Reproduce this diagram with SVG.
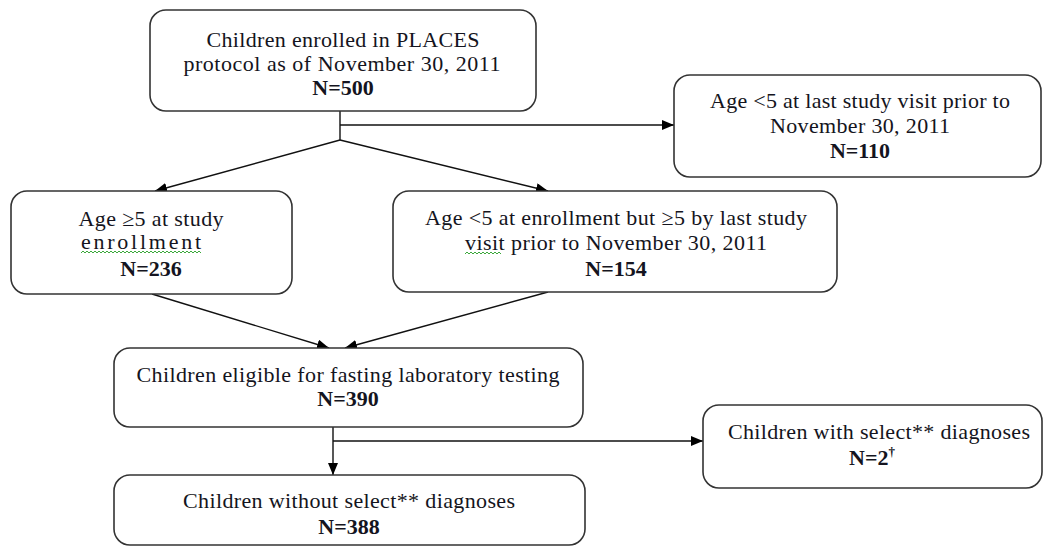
<svg xmlns="http://www.w3.org/2000/svg" width="1044" height="547" viewBox="0 0 1044 547">
<style>
.box{fill:#fff;stroke:#333;stroke-width:1.6}
.t{font-family:"Liberation Serif","Times New Roman",serif;font-size:22px;fill:#141420;text-anchor:middle}
.b{font-weight:bold}
.c{stroke:#111;stroke-width:1.4;fill:none}
.sq{stroke:#3aa83a;stroke-width:1;fill:none}
</style>
<defs>
<marker id="ah" markerWidth="12" markerHeight="10" refX="12" refY="5" orient="auto" markerUnits="userSpaceOnUse">
<path d="M0,0 L12,5 L0,10 Z" fill="#000"/>
</marker>
</defs>
<rect width="1044" height="547" fill="#fff"/>
<g id="connectors">
<line class="c" x1="340" y1="111" x2="340" y2="140"/>
<line class="c" x1="340" y1="125" x2="674" y2="125" marker-end="url(#ah)"/>
<line class="c" x1="340" y1="140" x2="155" y2="191" marker-end="url(#ah)"/>
<line class="c" x1="340" y1="140" x2="548" y2="191" marker-end="url(#ah)"/>
<line class="c" x1="152" y1="294" x2="329" y2="348" marker-end="url(#ah)"/>
<line class="c" x1="548" y1="292" x2="345" y2="348" marker-end="url(#ah)"/>
<line class="c" x1="333" y1="427" x2="333" y2="475" marker-end="url(#ah)"/>
<line class="c" x1="333" y1="441" x2="703" y2="441" marker-end="url(#ah)"/>
</g>
<g id="n1">
<rect class="box" x="150" y="10" width="386" height="101" rx="16"/>
<text class="t" x="343" y="47" textLength="273" lengthAdjust="spacing">Children enrolled in PLACES</text>
<text class="t" x="342" y="71" textLength="317" lengthAdjust="spacing">protocol as of November 30, 2011</text>
<text class="t b" x="343" y="95">N=500</text>
</g>
<g id="n2">
<rect class="box" x="674" y="75" width="367" height="102" rx="16"/>
<text class="t" x="860" y="108" textLength="300" lengthAdjust="spacing">Age &lt;5 at last study visit prior to</text>
<text class="t" x="860" y="133" textLength="180" lengthAdjust="spacing">November 30, 2011</text>
<text class="t b" x="860" y="158">N=110</text>
</g>
<g id="n3">
<rect class="box" x="11" y="191" width="281" height="103" rx="16"/>
<text class="t" x="151" y="226" textLength="145" lengthAdjust="spacing">Age ≥5 at study</text>
<text class="t" x="141" y="249" textLength="120" lengthAdjust="spacing">enrollment</text>
<path class="sq" d="M81,253 l2,-2 l2,2 l2,-2 l2,2 l2,-2 l2,2 l2,-2 l2,2 l2,-2 l2,2 l2,-2 l2,2 l2,-2 l2,2 l2,-2 l2,2 l2,-2 l2,2 l2,-2 l2,2 l2,-2 l2,2 l2,-2 l2,2 l2,-2 l2,2 l2,-2 l2,2 l2,-2 l2,2 l2,-2 l2,2 l2,-2 l2,2 l2,-2 l2,2 l2,-2 l2,2 l2,-2 l2,2 l2,-2 l2,2 l2,-2 l2,2 l2,-2 l2,2 l2,-2 l2,2 l2,-2 l2,2 l2,-2 l2,2 l2,-2 l2,2 l2,-2 l2,2 l2,-2 l2,2 l2,-2 l2,2"/>
<text class="t b" x="151" y="276">N=236</text>
</g>
<g id="n4">
<rect class="box" x="393" y="191" width="444" height="101" rx="16"/>
<text class="t" x="616" y="225" textLength="382" lengthAdjust="spacing">Age &lt;5 at enrollment but ≥5 by last study</text>
<text class="t" x="616" y="250" textLength="302" lengthAdjust="spacing">visit prior to November 30, 2011</text>
<path class="sq" d="M465,254 l2,-2 l2,2 l2,-2 l2,2 l2,-2 l2,2 l2,-2 l2,2 l2,-2 l2,2 l2,-2 l2,2 l2,-2 l2,2 l2,-2 l2,2 l2,-2 l2,2"/>
<text class="t b" x="616" y="276">N=154</text>
</g>
<g id="n5">
<rect class="box" x="114" y="348" width="469" height="79" rx="16"/>
<text class="t" x="348" y="382" textLength="423" lengthAdjust="spacing">Children eligible  for fasting laboratory testing</text>
<text class="t b" x="348" y="406">N=390</text>
</g>
<g id="n6">
<rect class="box" x="703" y="405" width="339" height="83" rx="16"/>
<text class="t" x="879" y="439" textLength="302" lengthAdjust="spacing">Children with select** diagnoses</text>
<text class="t b" x="872" y="465">N=2<tspan font-size="13" dy="-9">†</tspan></text>
</g>
<g id="n7">
<rect class="box" x="114" y="475" width="471" height="70" rx="16"/>
<text class="t" x="349" y="508" textLength="332" lengthAdjust="spacing">Children without select** diagnoses</text>
<text class="t b" x="349" y="534">N=388</text>
</g>
</svg>
